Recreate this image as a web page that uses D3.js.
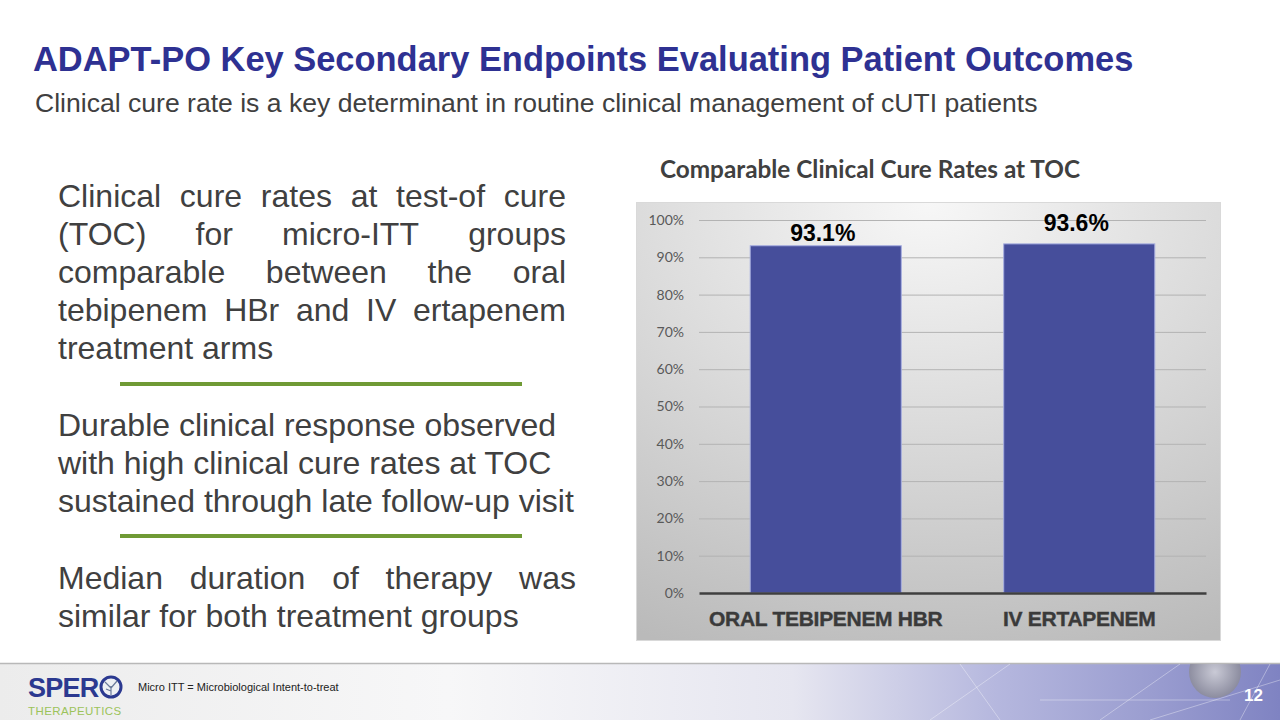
<!DOCTYPE html>
<html>
<head>
<meta charset="utf-8">
<script src="https://cdn.jsdelivr.net/npm/d3@7"></script>
<style>
  html, body { margin: 0; padding: 0; background: #ffffff; }
  svg { display: block; }
</style>
</head>
<body>
<svg id="slide" width="1280" height="720"></svg>
<script>
// ---------------- DATA ----------------
const categories = ["ORAL TEBIPENEM HBR", "IV ERTAPENEM"];
const cureRates = [93.1, 93.6];
const valueLabels = ["93.1%", "93.6%"];
const yTicks = [0, 10, 20, 30, 40, 50, 60, 70, 80, 90, 100];
const yTickLabels = ["0%", "10%", "20%", "30%", "40%", "50%", "60%", "70%", "80%", "90%", "100%"];

const slideTitle = "ADAPT-PO Key Secondary Endpoints Evaluating Patient Outcomes";
const slideSubtitle = "Clinical cure rate is a key determinant in routine clinical management of cUTI patients";
const chartTitle = "Comparable Clinical Cure Rates at TOC";
const para1 = ["Clinical cure rates at test-of cure", "(TOC) for micro-ITT groups", "comparable between the oral", "tebipenem HBr and IV ertapenem", "treatment arms"];
const para2 = ["Durable clinical response observed", "with high clinical cure rates at TOC", "sustained through late follow-up visit"];
const para3 = ["Median duration of therapy was", "similar for both treatment groups"];
const footnote = "Micro ITT = Microbiological Intent-to-treat";
const pageNumber = "12";

// ---------------- HELPERS ----------------
const svg = d3.select("#slide");
const defs = svg.append("defs");
const canvas = document.createElement("canvas");
const ctx = canvas.getContext("2d");
function measure(text, font) { ctx.font = font; return ctx.measureText(text).width; }
function fitSize(text, weight, family, target) {
  const w = measure(text, `${weight} 100px ${family}`);
  return 100 * target / w;
}

const ARIAL = "'Liberation Sans', Arial, sans-serif";
const CAL = "Lato, 'Noto Sans', sans-serif";
const textGray = "#404040";

// ---------------- HEADER ----------------
const tSize = fitSize(slideTitle, "bold", ARIAL, 1101);
svg.append("text").attr("x", 33).attr("y", 71)
  .attr("font-family", ARIAL).attr("font-weight", "bold").attr("font-size", tSize)
  .attr("fill", "#2e3192").text(slideTitle);

const sSize = fitSize(slideSubtitle, "normal", ARIAL, 1003);
svg.append("text").attr("x", 35).attr("y", 112)
  .attr("font-family", ARIAL).attr("font-size", sSize)
  .attr("fill", textGray).text(slideSubtitle);

// ---------------- LEFT TEXT ----------------
const bodySize = 32;
const bodyFont = `normal ${bodySize}px ${ARIAL}`;
function drawPara(lines, x, width, y0, justify) {
  lines.forEach((line, i) => {
    const y = y0 + i * 38;
    const words = line.split(" ");
    const isLast = i === lines.length - 1;
    if (!justify || isLast || words.length < 2) {
      svg.append("text").attr("x", x).attr("y", y)
        .attr("font-family", ARIAL).attr("font-size", bodySize)
        .attr("fill", textGray).text(line);
    } else {
      const ww = words.map(w => measure(w, bodyFont));
      const gap = (width - d3.sum(ww)) / (words.length - 1);
      let cx = x;
      words.forEach((w, j) => {
        svg.append("text").attr("x", cx).attr("y", y)
          .attr("font-family", ARIAL).attr("font-size", bodySize)
          .attr("fill", textGray).text(w);
        cx += ww[j] + gap;
      });
    }
  });
}
drawPara(para1, 58, 508, 207, true);
drawPara(para2, 58, 513, 436, false);
drawPara(para3, 58, 518, 589, true);

[384, 536].forEach(y => {
  svg.append("line").attr("x1", 120).attr("x2", 522).attr("y1", y).attr("y2", y)
    .attr("stroke", "#6f9a35").attr("stroke-width", 4);
});

// ---------------- CHART ----------------
svg.append("text").attr("x", 870).attr("y", 178).attr("text-anchor", "middle")
  .attr("font-family", CAL).attr("font-weight", "bold")
  .attr("font-size", fitSize(chartTitle, "bold", CAL, 421))
  .attr("fill", textGray).text(chartTitle);

const panelGrad = defs.append("radialGradient").attr("id", "panelGrad")
  .attr("cx", "50%").attr("cy", "0%").attr("r", "110%").attr("fx", "50%").attr("fy", "0%");
panelGrad.append("stop").attr("offset", "0%").attr("stop-color", "#f7f7f7");
panelGrad.append("stop").attr("offset", "45%").attr("stop-color", "#dcdcdc");
panelGrad.append("stop").attr("offset", "100%").attr("stop-color", "#bababa");

svg.append("rect").attr("x", 636.5).attr("y", 202.5).attr("width", 584).attr("height", 438)
  .attr("fill", "url(#panelGrad)").attr("stroke", "#d9d9d9").attr("stroke-width", 1);

const plot = { left: 699, right: 1206, top: 220, bottom: 593 };
const x = d3.scaleBand().domain(categories).range([plot.left, plot.right])
  .paddingInner(0.4).paddingOuter(0.2);
const y = d3.scaleLinear().domain([0, 100]).range([plot.bottom, plot.top]);

// gridlines
svg.append("g").selectAll("line").data(yTicks.filter(t => t > 0)).join("line")
  .attr("x1", plot.left).attr("x2", plot.right)
  .attr("y1", d => y(d) + 0.5).attr("y2", d => y(d) + 0.5)
  .attr("stroke", "#b3b3b3").attr("stroke-width", 1);

// y axis labels
const yAxis = d3.axisLeft(y).tickValues(yTicks).tickSize(0).tickPadding(15)
  .tickFormat((d, i) => yTickLabels[i]);
const gy = svg.append("g").attr("transform", `translate(${plot.left},0)`).call(yAxis);
gy.select(".domain").remove();
gy.selectAll("text").attr("font-family", CAL).attr("font-size", 14).attr("fill", "#595959");

// bars
svg.append("g").selectAll("rect").data(cureRates).join("rect")
  .attr("x", (d, i) => x(categories[i]) + 0.5)
  .attr("width", x.bandwidth() - 1)
  .attr("y", d => y(d))
  .attr("height", d => y(0) - y(d))
  .attr("fill", "#464e9b").attr("stroke", "#a7aee0").attr("stroke-width", 1);

// x axis
const xAxis = d3.axisBottom(x).tickSize(0).tickPadding(18);
const gx = svg.append("g").attr("transform", `translate(0,${plot.bottom})`).call(xAxis);
gx.select(".domain").attr("stroke", "#3f3f3f").attr("stroke-width", 2.5);
gx.selectAll("text").attr("font-family", ARIAL).attr("font-weight", "bold")
  .attr("font-size", 21).attr("fill", "#3a3a3a").attr("dy", "0.71em")
  .attr("stroke", "#3a3a3a").attr("stroke-width", 0.4)
  .style("letter-spacing", "-0.3px");

// value labels
const labelLift = [5, 13];
svg.append("g").selectAll("text").data(cureRates).join("text")
  .attr("x", (d, i) => x(categories[i]) + x.bandwidth() / 2 - 3)
  .attr("y", (d, i) => y(d) - labelLift[i])
  .attr("text-anchor", "middle")
  .attr("font-family", ARIAL).attr("font-weight", "bold").attr("font-size", 23)
  .attr("fill", "#000").text((d, i) => valueLabels[i]);

// ---------------- FOOTER ----------------
const fGrad = defs.append("linearGradient").attr("id", "footGrad").attr("x1", "0").attr("x2", "1");
fGrad.append("stop").attr("offset", "0%").attr("stop-color", "#ececec");
fGrad.append("stop").attr("offset", "35%").attr("stop-color", "#f7f7f8");
fGrad.append("stop").attr("offset", "62%").attr("stop-color", "#e6e6f0");
fGrad.append("stop").attr("offset", "78%").attr("stop-color", "#b5b7de");
fGrad.append("stop").attr("offset", "90%").attr("stop-color", "#9a9dd0");
fGrad.append("stop").attr("offset", "100%").attr("stop-color", "#7f83c2");
svg.append("rect").attr("x", 0).attr("y", 663).attr("width", 1280).attr("height", 57)
  .attr("fill", "url(#footGrad)");
svg.append("line").attr("x1", 0).attr("x2", 1280).attr("y1", 663.5).attr("y2", 663.5)
  .attr("stroke", "#b8b8b8").attr("stroke-width", 1.5);

// decorative light streaks
const streaks = [[930, 720, 1010, 664], [1000, 720, 960, 664], [1100, 720, 1180, 664], [1150, 720, 1280, 680], [1240, 720, 1270, 664], [1040, 700, 1230, 700]];
svg.append("g").selectAll("line").data(streaks).join("line")
  .attr("x1", d => d[0]).attr("y1", d => d[1]).attr("x2", d => d[2]).attr("y2", d => d[3])
  .attr("stroke", "#ffffff").attr("stroke-opacity", 0.45).attr("stroke-width", 0.8);
const sphereGrad = defs.append("radialGradient").attr("id", "sphereGrad");
sphereGrad.append("stop").attr("offset", "0%").attr("stop-color", "#d4d4d8");
sphereGrad.append("stop").attr("offset", "100%").attr("stop-color", "#8c8c98");
svg.append("clipPath").attr("id", "footClip").append("rect")
  .attr("x", 0).attr("y", 664).attr("width", 1280).attr("height", 56);
svg.append("circle").attr("cx", 1215).attr("cy", 672).attr("r", 26)
  .attr("fill", "url(#sphereGrad)").attr("clip-path", "url(#footClip)").attr("opacity", 0.85);

// logo
svg.append("text").attr("x", 28).attr("y", 697)
  .attr("font-family", ARIAL).attr("font-weight", "bold").attr("font-size", 27)
  .attr("fill", "#2b3990").style("letter-spacing", "-0.8px").text("SPER");
svg.append("circle").attr("cx", 111).attr("cy", 687).attr("r", 10)
  .attr("fill", "#eef0f4").attr("stroke", "#2b3990").attr("stroke-width", 3);
svg.append("path").attr("d", "M111,695 L111,686 M111,688 L105,682 M111,688 L117,681 M111,691 L106,689")
  .attr("stroke", "#6a7a9a").attr("stroke-width", 1.2).attr("fill", "none");
svg.append("text").attr("x", 28).attr("y", 715)
  .attr("font-family", ARIAL).attr("font-size", 11.5)
  .attr("fill", "#9cc35a").style("letter-spacing", "0.4px").text("THERAPEUTICS");

svg.append("text").attr("x", 138).attr("y", 691)
  .attr("font-family", ARIAL).attr("font-size", 11)
  .attr("fill", "#222").text(footnote);

svg.append("text").attr("x", 1263).attr("y", 701).attr("text-anchor", "end")
  .attr("font-family", ARIAL).attr("font-weight", "bold").attr("font-size", 17)
  .attr("fill", "#ffffff").text(pageNumber);
</script>
</body>
</html>
